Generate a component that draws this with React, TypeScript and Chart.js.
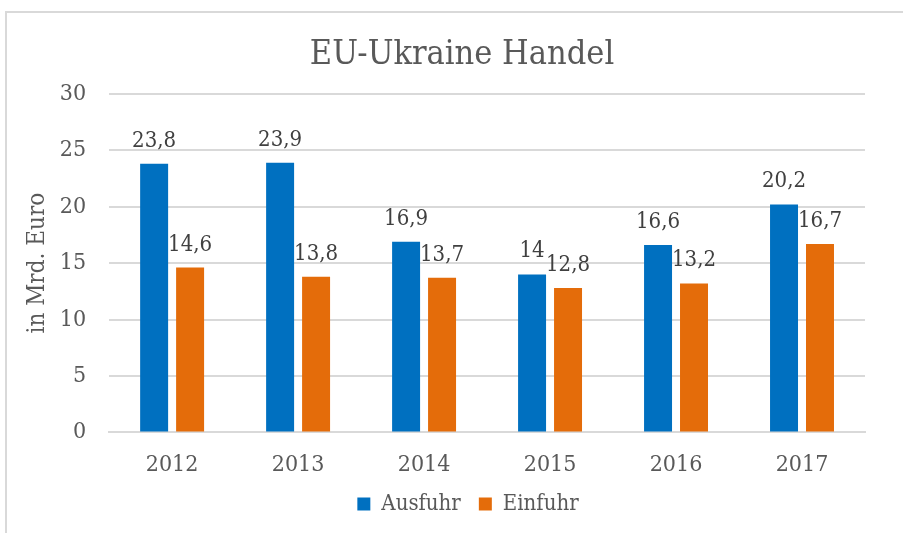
import React, { useEffect, useRef } from "react";
import { Chart, registerables } from "chart.js";

Chart.register(...registerables);

const years = ["2012", "2013", "2014", "2015", "2016", "2017"];
const ausfuhr = [23.8, 23.9, 16.9, 14, 16.6, 20.2];
const einfuhr = [14.6, 13.8, 13.7, 12.8, 13.2, 16.7];
const seriesNames = ["Ausfuhr", "Einfuhr"];
const titleText = "EU-Ukraine Handel";
const yAxisTitle = "in Mrd. Euro";

const FONT = '"DejaVu Serif Condensed", "DejaVu Serif", serif';

const dataLabelPlugin = {
  id: "dataLabels",
  afterDatasetsDraw(chart: any) {
    const ctx = chart.ctx;
    ctx.save();
    ctx.font = `22px ${FONT}`;
    ctx.fillStyle = "#404040";
    ctx.textAlign = "center";
    ctx.textBaseline = "alphabetic";
    chart.data.datasets.forEach((ds: any, i: number) => {
      const meta = chart.getDatasetMeta(i);
      meta.data.forEach((bar: any, j: number) => {
        const v = ds.data[j];
        const txt = String(v).replace(".", ",");
        ctx.fillText(txt, bar.x, bar.y - 17);
      });
    });
    ctx.restore();
  },
};

const boxShift = {
  id: "boxShift",
  afterLayout(chart: any) {
    const l = chart.legend;
    if (l) {
      l.left += 24;
      l.right += 24;
      l.top -= 23;
      l.bottom -= 23;
    }
    const t = chart.titleBlock;
    if (t) {
      t.left += 18;
      t.right += 18;
    }
  },
};

export default function App() {
  const ref = useRef<HTMLCanvasElement>(null);
  useEffect(() => {
    const chart = new Chart(ref.current!, {
      type: "bar",
      data: {
        labels: years,
        datasets: [
          { label: seriesNames[0], data: ausfuhr, backgroundColor: "#0070C0" },
          { label: seriesNames[1], data: einfuhr, backgroundColor: "#E46C0A" },
        ],
      },
      options: {
        animation: false,
        responsive: false,
        layout: { padding: { left: 23, right: 38, top: 35, bottom: -15 } },
        datasets: {
          bar: { categoryPercentage: 0.571, barPercentage: 0.778 },
        } as any,
        plugins: {
          title: {
            display: true,
            text: titleText,
            color: "#595959",
            font: { family: FONT, size: 34, weight: "normal" as any },
            padding: { top: 0, bottom: 18 },
          },
          legend: {
            position: "bottom",
            labels: {
              boxWidth: 13,
              boxHeight: 13,
              color: "#595959",
              font: { family: FONT, size: 22 },
              padding: 18,
            },
          },
          tooltip: { enabled: false },
        },
        scales: {
          x: {
            grid: { display: false, drawTicks: false },
            border: { display: true, color: "#d9d9d9", width: 2 },
            ticks: { color: "#595959", font: { family: FONT, size: 23 }, padding: 19 },
          },
          y: {
            min: 0,
            max: 30,
            ticks: { stepSize: 5, color: "#595959", font: { family: FONT, size: 23 }, padding: 23 },
            grid: { color: "#d9d9d9", lineWidth: 2, drawTicks: false },
            border: { display: false },
            title: {
              display: true,
              text: yAxisTitle,
              color: "#595959",
              font: { family: FONT, size: 24 },
              padding: { top: 0, bottom: -15 },
            },
          },
        },
      },
      plugins: [dataLabelPlugin, boxShift],
    });
    return () => chart.destroy();
  }, []);
  return (
    <div style={{ position: "absolute", left: 0, top: 0, width: 903, height: 533, background: "#fff", overflow: "hidden" }}>
      <div style={{ position: "absolute", left: 5, top: 11, width: 920, height: 540, border: "2px solid #d9d9d9" }} />
      <canvas ref={ref} width={903} height={533} style={{ position: "absolute", left: 0, top: 0 }} />
    </div>
  );
}
